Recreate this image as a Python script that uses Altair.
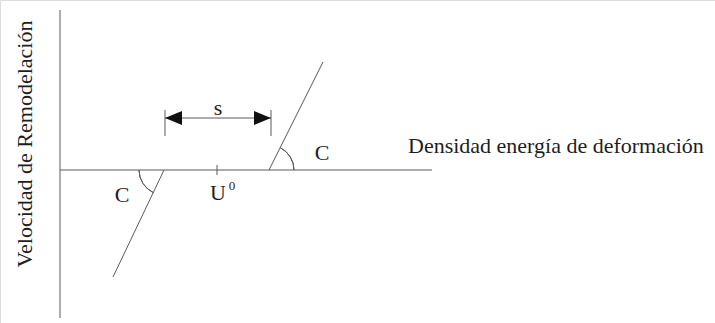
import altair as alt
import pandas as pd

# Coordinate frame: origin where the two axes cross, y pointing up.
X_DOMAIN = [-60, 655]
Y_DOMAIN = [-153, 170]

# Axes
axis_x = [0, 0]
axis_y = [-148, 160]
axis_x2 = [0, 372]
axis_y2 = [0, 0]

# Remodelling lines (lower branch and upper branch, slope C)
lower_x = [53, 104]
lower_y = [-107, 0]
upper_x = [209, 263]
upper_y = [0, 108]

# Reference stimulus U0 and the dead zone s
u0_x = 157
s_left, s_right, s_level = 105, 211, 52
s_bar_low, s_bar_high = 34, 60

# Angle markers at the line/axis intersections (theta measured clockwise from north)
arc_cx = [209, 104]
arc_cy = [0, 0]
arc_t1 = [0.47, 3.58]
arc_t2 = [1.5708, 4.7124]

# Text labels
label_text = ["C", "C", "s", "U", "0"]
label_x = [262, 62, 158, 158, 172]
label_y = [17, -25, 62, -23, -16]
label_size = [22, 22, 22, 22, 13]

INK = "#5a5a5a"
TEXT = "#1e1e1e"
FONT = "Liberation Serif"

xs = alt.Scale(domain=X_DOMAIN, nice=False, zero=False)
ys = alt.Scale(domain=Y_DOMAIN, nice=False, zero=False)
X = lambda f: alt.X(f, type="quantitative", scale=xs, axis=None)
Y = lambda f: alt.Y(f, type="quantitative", scale=ys, axis=None)

segments = pd.DataFrame({
    "x": [axis_x[0], axis_x2[0], lower_x[0], upper_x[0], u0_x, s_left, s_right, s_left],
    "x2": [axis_x[1], axis_x2[1], lower_x[1], upper_x[1], u0_x, s_left, s_right, s_right],
    "y": [axis_y[0], axis_y2[0], lower_y[0], upper_y[0], -5, s_bar_low, s_bar_low, s_level],
    "y2": [axis_y[1], axis_y2[1], lower_y[1], upper_y[1], 5, s_bar_high, s_bar_high, s_level],
})

rules = alt.Chart(segments).mark_rule(color=INK, strokeWidth=1).encode(
    x=X("x"), x2="x2", y=Y("y"), y2="y2"
)

heads = pd.DataFrame({
    "x": [s_left, s_right],
    "y": [s_level, s_level],
    "shape": ["M0,0L2,-0.82L2,0.82Z", "M0,0L-2,-0.82L-2,0.82Z"],
})
arrowheads = alt.Chart(heads).mark_point(
    filled=True, color="#111111", size=289, opacity=1
).encode(
    x=X("x"), y=Y("y"),
    shape=alt.Shape("shape:N", scale=None, legend=None),
)

arcs_df = pd.DataFrame({"x": arc_cx, "y": arc_cy, "t1": arc_t1, "t2": arc_t2})
arcs = alt.Chart(arcs_df).mark_arc(
    filled=False, fill=None, stroke=INK, strokeWidth=1,
    radius=25, radius2=25,
).encode(
    x=X("x"), y=Y("y"),
    theta=alt.Theta("t1:Q", scale=None),
    theta2="t2",
)

labels_df = pd.DataFrame({"t": label_text, "x": label_x, "y": label_y, "s": label_size})
labels = alt.Chart(labels_df).mark_text(
    font=FONT, color=TEXT, align="center", baseline="middle"
).encode(
    x=X("x"), y=Y("y"), text="t:N",
    size=alt.Size("s:Q", scale=None, legend=None),
)

x_title = alt.Chart(pd.DataFrame({"t": ["Densidad energía de deformación"], "x": [348], "y": [24]})).mark_text(
    font=FONT, color=TEXT, fontSize=22, align="left", baseline="middle"
).encode(x=X("x"), y=Y("y"), text="t:N")

y_title = alt.Chart(pd.DataFrame({"t": ["Velocidad de Remodelación"], "x": [-35], "y": [26]})).mark_text(
    font=FONT, color=TEXT, fontSize=22, align="center", baseline="middle", angle=270
).encode(x=X("x"), y=Y("y"), text="t:N")

chart = alt.layer(rules, arcs, arrowheads, labels, x_title, y_title).properties(
    width=715, height=323, padding=0,
    autosize=alt.AutoSizeParams(type="none"),
).configure_view(stroke=None).configure(background="white")

chart.save("out.html", embed_options={"renderer": "svg", "actions": False})
